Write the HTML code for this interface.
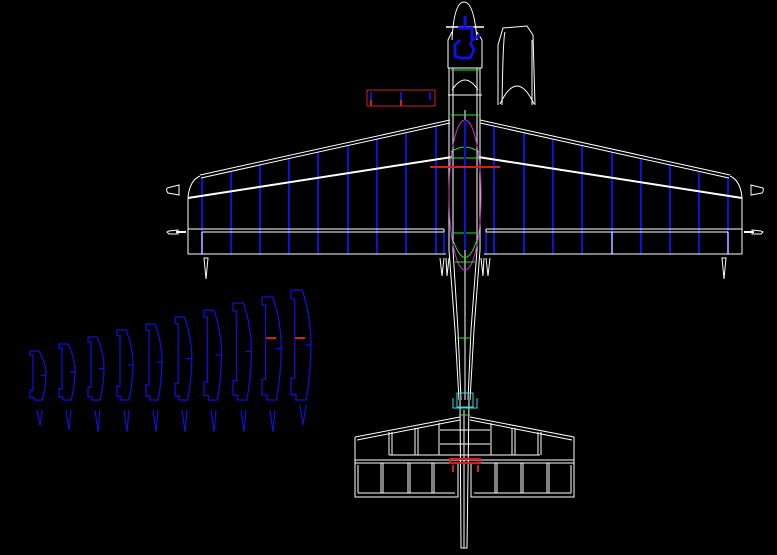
<!DOCTYPE html>
<html><head><meta charset="utf-8"><style>
html,body{margin:0;padding:0;background:#000;}
svg{display:block;}
</style></head><body>
<svg width="777" height="555" viewBox="0 0 777 555" xmlns="http://www.w3.org/2000/svg">
<rect width="777" height="555" fill="#000"/>
<defs>
<g id="wing">
  <g stroke="#1010d0" stroke-width="2">
    <line x1="202" y1="177" x2="202" y2="254"/>
    <line x1="231" y1="171" x2="231" y2="254"/>
    <line x1="260" y1="164" x2="260" y2="254"/>
    <line x1="289" y1="158" x2="289" y2="254"/>
    <line x1="318" y1="152" x2="318" y2="254"/>
    <line x1="348" y1="145" x2="348" y2="254"/>
    <line x1="377" y1="139" x2="377" y2="254"/>
    <line x1="406" y1="133" x2="406" y2="254"/>
    <line x1="436" y1="126" x2="436" y2="254"/>
    <line x1="444" y1="232" x2="444" y2="254"/>
  </g>
  <g stroke="#fff" fill="none" stroke-width="1">
    <line x1="200" y1="175" x2="450" y2="120"/>
    <line x1="201" y1="178" x2="450" y2="123"/>
    <path d="M188,197 Q190,180 200,176"/>
    <line x1="188" y1="197" x2="188" y2="254"/>
    <line x1="188" y1="254" x2="446" y2="254"/>
    <line x1="188" y1="229" x2="444" y2="229"/>
    <line x1="202" y1="232" x2="444" y2="232"/>
    <line x1="202" y1="232" x2="202" y2="254"/>
    <line x1="444" y1="229" x2="444" y2="232"/>
    <path d="M204,258 L206,279 L208,258 Z"/>
    <path d="M440,258 L442,276 L444,258 M446,258 L447,276 L449,258"/>
    <path d="M179,185 L167,188 Q166,191 168,193 L179,195 Z"/>
    <path d="M178,230 L169,231 L167,232 L169,234 L178,234 Z"/>
  </g>
  <line x1="188" y1="198" x2="452" y2="157" stroke="#fff" stroke-width="2"/>
  <line x1="176" y1="232" x2="186" y2="232" stroke="#fff" stroke-width="2"/>
</g>
<g id="rib" fill="none" stroke="#1010d0" stroke-width="1.3">
  <path vector-effect="non-scaling-stroke" d="M0,0 L9,0 Q15,20 16,45 Q16,75 12,100 L4,100 L4,95 L0,95 L0,80 L3,80 L3,8 L0,8 Z"/>
  <line vector-effect="non-scaling-stroke" x1="11" y1="50" x2="16" y2="50"/>
</g>
</defs>

<use href="#wing"/>
<use href="#wing" transform="translate(930,0) scale(-1,1)"/>
<line x1="612" y1="232" x2="612" y2="254" stroke="#fff"/>

<g stroke="#fff" fill="none" stroke-width="1">
  <path d="M452,40 Q454,2 464,2 Q474,2 477,40"/>
  <line x1="446" y1="27" x2="484" y2="27" stroke-width="1.5"/>
  <path d="M448,68 L448,40 L452,32 M482,68 L482,40 L477,32"/>
  <path d="M449,68 L449,250 L455,330 L459,400 M480,68 L480,250 L474,330 L470,400"/>
  <path d="M453,68 L453,250 L458,330 L461,400 M477,68 L477,250 L471,330 L468,400"/>
  <line x1="465" y1="110" x2="465" y2="400"/>
  <line x1="448" y1="68" x2="482" y2="68"/>
  <line x1="448" y1="95" x2="482" y2="95"/>
  <path d="M452,90 Q465,70 478,90"/>
  <path d="M460,400 L461,548 L467,548 L469,400"/>
  <line x1="464" y1="410" x2="464" y2="548"/>
  <path d="M498,105 L498,45 L503,28 L527,26 L533,35 L535,105"/>
  <path d="M502,105 Q503,38 505,32 M532,105 L532,40"/>
  <path d="M500,104 Q517,68 534,104"/>
</g>
<ellipse cx="465" cy="195" rx="16" ry="75" fill="none" stroke="#c030c0"/>
<g stroke="#30e030" fill="none">
  <line x1="451" y1="70" x2="479" y2="70"/>
  <line x1="451" y1="115" x2="479" y2="115"/>
  <path d="M451,152 Q465,142 479,152 M451,158 L479,158"/>
  <path d="M453,233 L477,233 M453,240 Q465,275 477,240"/>
  <line x1="455" y1="262" x2="475" y2="262"/>
  <line x1="457" y1="338" x2="471" y2="338"/>
  <line x1="459" y1="415" x2="470" y2="415"/>
</g>
<line x1="465" y1="120" x2="465" y2="250" stroke="#1010d0" stroke-width="2"/>
<line x1="430" y1="167" x2="500" y2="167" stroke="#d02020" stroke-width="2"/>
<g stroke="#1010e0" stroke-width="3" fill="none">
  <line x1="465" y1="16" x2="465" y2="28"/>
  <path d="M458,28 L472,28 L472,40 L480,35 M460,40 L455,45 L455,56 L460,58 L470,58 L474,50 L470,42"/>
</g>
<rect x="367" y="90" width="68" height="16" fill="none" stroke="#d02020"/>
<g stroke="#1010d0" stroke-width="2"><line x1="371" y1="92" x2="371" y2="100"/><line x1="401" y1="92" x2="401" y2="100"/><line x1="430" y1="92" x2="430" y2="100"/></g>
<g stroke="#d02020" stroke-width="2"><line x1="371" y1="100" x2="371" y2="106"/><line x1="401" y1="100" x2="401" y2="106"/></g>
<g stroke="#30e0e0" fill="none">
  <rect x="457" y="393" width="16" height="14"/>
  <path d="M453,398 L453,408 L477,408 L477,398"/>
</g>

<g stroke="#fff" fill="none">
  <path d="M355,437 L355,497 L458,497 L458,462 M574,437 L574,497 L471,497 L471,462"/>
  <path d="M355,437 L460,417 M357,440 L460,420 M574,437 L470,417 M572,440 L470,420"/>
  <line x1="355" y1="460" x2="574" y2="460"/>
  <line x1="355" y1="463" x2="574" y2="463"/>
  <line x1="389" y1="455" x2="540" y2="455"/>
  <line x1="389" y1="432" x2="389" y2="455"/><line x1="392" y1="432" x2="392" y2="455"/>
  <line x1="415" y1="428" x2="415" y2="455"/><line x1="418" y1="428" x2="418" y2="455"/>
  <line x1="439" y1="423" x2="439" y2="455"/>
  <line x1="491" y1="423" x2="491" y2="455"/>
  <line x1="512" y1="428" x2="512" y2="455"/><line x1="515" y1="428" x2="515" y2="455"/>
  <line x1="538" y1="432" x2="538" y2="455"/><line x1="541" y1="432" x2="541" y2="455"/>
  <line x1="440" y1="430" x2="490" y2="430"/><line x1="440" y1="444" x2="490" y2="444"/>
  <line x1="381" y1="463" x2="381" y2="493"/><line x1="383" y1="463" x2="383" y2="493"/>
  <line x1="408" y1="463" x2="408" y2="493"/><line x1="410" y1="463" x2="410" y2="493"/>
  <line x1="432" y1="463" x2="432" y2="493"/><line x1="434" y1="463" x2="434" y2="493"/>
  <line x1="495" y1="463" x2="495" y2="493"/><line x1="497" y1="463" x2="497" y2="493"/>
  <line x1="521" y1="463" x2="521" y2="493"/><line x1="523" y1="463" x2="523" y2="493"/>
  <line x1="547" y1="463" x2="547" y2="493"/><line x1="549" y1="463" x2="549" y2="493"/>
  <line x1="358" y1="493" x2="455" y2="493"/><line x1="474" y1="493" x2="571" y2="493"/>
  <line x1="358" y1="465" x2="358" y2="493"/><line x1="571" y1="465" x2="571" y2="493"/>
</g>
<rect x="450" y="459" width="30" height="4" fill="none" stroke="#d02020" stroke-width="2"/>
<g stroke="#d02020" stroke-width="2"><line x1="453" y1="465" x2="453" y2="472"/><line x1="478" y1="465" x2="478" y2="472"/></g>

<use href="#rib" transform="translate(30,351) scale(1,0.49)"/>
<use href="#rib" transform="translate(59,344) scale(1,0.56)"/>
<use href="#rib" transform="translate(88,337) scale(1,0.63)"/>
<use href="#rib" transform="translate(117,330) scale(1,0.70)"/>
<use href="#rib" transform="translate(146,324) scale(1,0.76)"/>
<use href="#rib" transform="translate(175,317) scale(1.05,0.83)"/>
<use href="#rib" transform="translate(204,310) scale(1.1,0.90)"/>
<use href="#rib" transform="translate(233,303) scale(1.15,0.97)"/>
<use href="#rib" transform="translate(262,297) scale(1.2,1.03)"/>
<use href="#rib" transform="translate(291,290) scale(1.25,1.10)"/>
<g fill="none" stroke="#1010d0" stroke-width="1.2">
  <path d="M37,410 L40,426 L42,410"/><path d="M66,410 L69,430 L71,410"/><path d="M95,410 L98,432 L100,410"/>
  <path d="M124,410 L127,432 L129,410"/><path d="M153,410 L156,432 L158,410"/><path d="M182,410 L185,432 L187,410"/>
  <path d="M211,410 L214,432 L216,410"/><path d="M241,410 L244,432 L246,410"/><path d="M270,410 L273,432 L275,410"/>
  <path d="M300,405 L303,425 L306,405"/>
</g>
<g stroke="#d02020" stroke-width="2"><line x1="266" y1="338" x2="276" y2="338"/><line x1="295" y1="338" x2="305" y2="338"/></g>
</svg>
</body></html>
